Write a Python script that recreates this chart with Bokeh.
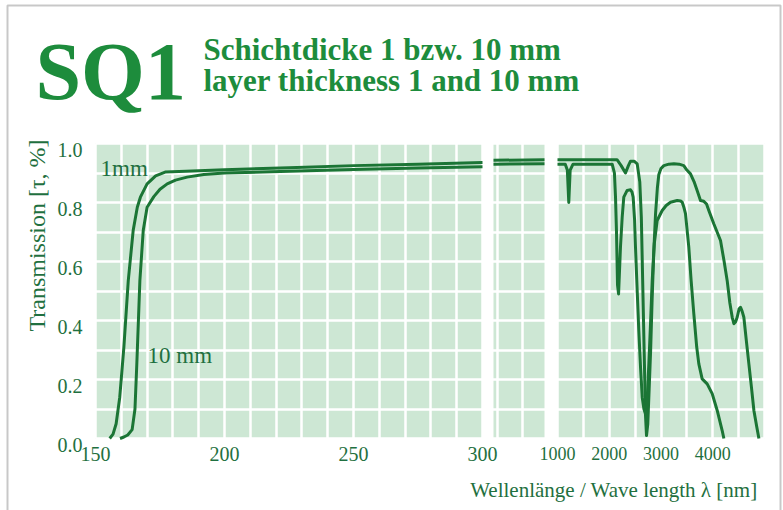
import math
from bokeh.plotting import figure
from bokeh.models import (Range1d, LinearAxis, FixedTicker, SingleIntervalTicker, Grid,
                          BoxAnnotation, Label, PrintfTickFormatter)
from bokeh.embed import file_html
from bokeh.resources import INLINE

# ---------------- data ----------------
# UV segment 150-300 nm
uv_1mm_nm = [155.5, 156.8, 158.0, 159.4, 161.0, 162.7, 164.6, 166.2, 167.4, 170.0, 173.3, 177.0,
             185.0, 200.0, 225.0, 250.0, 275.0, 300.0]
uv_1mm_T = [0.00, 0.015, 0.05, 0.14, 0.31, 0.535, 0.705, 0.784, 0.818, 0.863, 0.89, 0.903,
            0.906, 0.911, 0.918, 0.925, 0.930, 0.936]
uv_10mm_nm = [159.5, 161.0, 162.5, 164.2, 165.3, 166.0, 167.2, 168.5, 170.0, 172.6, 175.0, 177.8,
              181.0, 185.5, 192.0, 200.0, 225.0, 250.0, 275.0, 300.0]
uv_10mm_T = [0.00, 0.005, 0.012, 0.03, 0.10, 0.25, 0.535, 0.705, 0.784, 0.82, 0.845, 0.863,
             0.876, 0.886, 0.895, 0.900, 0.906, 0.912, 0.917, 0.921]
# middle (broken) segment 300-1000 nm
mid_nm = [300, 1000]
mid_1mm_T = [0.943, 0.945]
mid_10mm_T = [0.930, 0.931]
# IR segment 1000-5000 nm
ir_1mm_nm = [1000, 2150, 2230, 2314, 2370, 2411, 2480, 2540, 2590, 2620, 2650, 2680, 2700, 2720,
             2745, 2765, 2800, 2830, 2860, 2894, 2930, 2958, 3000, 3055, 3150, 3250, 3350, 3440,
             3500, 3570, 3640, 3700, 3763, 3827, 3880, 3924, 4020, 4150, 4220, 4279, 4330, 4376,
             4408, 4440, 4472, 4510, 4537, 4570, 4601, 4650, 4698, 4750, 4795, 4850, 4892]
ir_1mm_T = [0.945, 0.945, 0.925, 0.90, 0.925, 0.94, 0.94, 0.931, 0.87, 0.75, 0.5, 0.25, 0.08, 0.01,
            0.05, 0.14, 0.3, 0.48, 0.63, 0.76, 0.85, 0.895, 0.915, 0.925, 0.93, 0.931, 0.93, 0.925,
            0.91, 0.897, 0.87, 0.84, 0.807, 0.804, 0.795, 0.773, 0.728, 0.671, 0.6, 0.535, 0.46, 0.411,
            0.389, 0.395, 0.411, 0.44, 0.445, 0.43, 0.411, 0.33, 0.253, 0.17, 0.095, 0.04, 0.0]
ir_10mm_nm = [1000, 1150, 1190, 1218, 1245, 1300, 1400, 2057, 2100, 2121, 2140, 2160, 2180, 2217,
              2250, 2281, 2346, 2411, 2440, 2462, 2490, 2507, 2540, 2571, 2605, 2637, 2670, 2700,
              2730, 2765, 2800, 2830, 2870, 2926, 3023, 3100, 3184, 3313, 3380, 3410, 3440, 3473,
              3537, 3580, 3634, 3690, 3731, 3795, 3892, 3989, 4086, 4182, 4215]
ir_10mm_T = [0.93, 0.93, 0.91, 0.80, 0.91, 0.93, 0.93, 0.93, 0.90, 0.818, 0.70, 0.52, 0.49, 0.649,
             0.75, 0.818, 0.841, 0.843, 0.835, 0.818, 0.74, 0.649, 0.5, 0.366, 0.24, 0.14, 0.1, 0.084,
             0.12, 0.253, 0.4, 0.535, 0.66, 0.739, 0.773, 0.79, 0.801, 0.807, 0.805, 0.801, 0.785,
             0.762, 0.649, 0.54, 0.423, 0.31, 0.253, 0.202, 0.185, 0.152, 0.095, 0.027, 0.0]

uv_ticks = [150, 200, 250, 300]
ir_ticks = [1000, 2000, 3000, 4000]
y_ticks = [0.0, 0.2, 0.4, 0.6, 0.8, 1.0]
UV_DOM, MID_DOM, IR_DOM = (150, 300), (300, 1000), (1000, 5000)

# ---------------- layout (canvas pixels; frame covers the whole canvas) ----------------
W, H = 783, 510
FR_T, FR_B = 143, 438
SEG_UV, SEG_MID, SEG_IR = (95, 482), (493, 544), (557, 764)

def seg_range(dom, seg):
    s = (dom[1] - dom[0]) / (seg[1] - seg[0])
    return Range1d(dom[0] - seg[0] * s, dom[1] + (W - seg[1]) * s)

def px_x(px, dom=UV_DOM, seg=SEG_UV):
    s = (dom[1] - dom[0]) / (seg[1] - seg[0])
    return dom[0] + (px - seg[0]) * s

def px_y(py):
    return (FR_B - py) / (FR_B - FR_T)

LINE = "#1b7535"
TXT = "#1f7040"
TITLE = "#1d8c3c"
BG = "#cde7d4"
FONT = "Liberation Serif"

p = figure(width=W, height=H, output_backend="svg", toolbar_location=None,
           x_axis_location=None, y_axis_location=None,
           x_range=seg_range(UV_DOM, SEG_UV), y_range=Range1d(px_y(H), px_y(0)),
           min_border=0, min_border_left=0, min_border_right=0,
           min_border_top=0, min_border_bottom=0)
p.center = [r for r in p.center if not isinstance(r, Grid)]
p.outline_line_color = None
p.background_fill_color = "white"
p.border_fill_color = "white"
p.extra_x_ranges = {"mid": seg_range(MID_DOM, SEG_MID), "ir": seg_range(IR_DOM, SEG_IR)}
d = 6 / (FR_B - FR_T)
p.extra_y_ranges = {"ylab": Range1d(px_y(H) + d, px_y(0) + d)}

# page frame
p.add_layout(BoxAnnotation(left=px_x(7), right=px_x(780), top=px_y(5), bottom=px_y(530),
                           fill_color=None, line_color="#4a4a4a", line_width=2, level="underlay"))
# segment backgrounds
for dom, rn in ((UV_DOM, "default"), (MID_DOM, "mid"), (IR_DOM, "ir")):
    p.add_layout(BoxAnnotation(left=dom[0], right=dom[1], bottom=0, top=1, x_range_name=rn,
                               fill_color=BG, fill_alpha=1, line_color=None, level="underlay"))
# grids
for dom, rn, step in ((UV_DOM, "default", 10), (MID_DOM, "mid", 350), (IR_DOM, "ir", 500)):
    p.add_layout(Grid(dimension=0, x_range_name=rn, ticker=SingleIntervalTicker(interval=step),
                      bounds=dom, cross_bounds=(0, 1), grid_line_color="white", grid_line_width=2.5))
p.add_layout(Grid(dimension=1, ticker=SingleIntervalTicker(interval=0.1), bounds=(0, 1),
                  cross_bounds=(px_x(SEG_UV[0]), px_x(SEG_IR[1])),
                  grid_line_color="white", grid_line_width=2.5))

# curves
for xs, ys, rn in ((uv_1mm_nm, uv_1mm_T, "default"), (uv_10mm_nm, uv_10mm_T, "default"),
                   (mid_nm, mid_1mm_T, "mid"), (mid_nm, mid_10mm_T, "mid"),
                   (ir_1mm_nm, ir_1mm_T, "ir"), (ir_10mm_nm, ir_10mm_T, "ir")):
    p.line(xs, ys, x_range_name=rn, line_color=LINE, line_width=3, line_join="round")

# axes (drawn inside the full-canvas frame)
def style_axis(ax, size):
    ax.axis_line_color = None
    ax.major_tick_line_color = None
    ax.minor_tick_line_color = None
    ax.major_tick_out = 0
    ax.major_tick_in = 0
    ax.major_label_text_font = FONT
    ax.major_label_text_font_size = size
    ax.major_label_text_color = TXT

yax = LinearAxis(y_range_name="ylab", ticker=FixedTicker(ticks=y_ticks),
                 formatter=PrintfTickFormatter(format="%.1f"), fixed_location=UV_DOM[0],
                 major_label_standoff=13)
style_axis(yax, "20px")
p.add_layout(yax, "left")

xax = LinearAxis(ticker=FixedTicker(ticks=uv_ticks), fixed_location=0, major_label_standoff=8)
style_axis(xax, "20px")
p.add_layout(xax, "below")
xax2 = LinearAxis(x_range_name="ir", ticker=FixedTicker(ticks=ir_ticks), fixed_location=0,
                  major_label_standoff=8)
style_axis(xax2, "18px")
p.add_layout(xax2, "below")

# texts (y given as the wanted baseline in canvas px; corrected for the renderer's offset)
def lab(text, px, base, size, color=TXT, bold=False, align="left", baseline="alphabetic",
        angle=0, rn="default", dom=UV_DOM, seg=SEG_UV):
    y = px_y(base - 0.34 * size) if baseline == "alphabetic" else px_y(base)
    p.add_layout(Label(x=px_x(px, dom, seg), y=y, text=text, x_range_name=rn, text_font=FONT,
                       text_font_size=f"{size}px", text_color=color,
                       text_font_style="bold" if bold else "normal",
                       text_align=align, text_baseline=baseline, angle=angle))

lab("SQ1", 35, 99, 82, TITLE, bold=True)
lab("Schichtdicke 1 bzw. 10 mm", 203, 60, 31, TITLE, bold=True)
lab("layer thickness 1 and 10 mm", 203, 91, 31, TITLE, bold=True)
lab("Transmission [τ, %]", 36, 235, 24, TXT, align="center", baseline="middle", angle=math.pi / 2)
lab("1mm", 100, 176, 23)
lab("10 mm", 147, 363, 23)
lab("Wellenlänge / Wave length λ [nm]", 757, 497, 21, align="right", rn="ir", dom=IR_DOM, seg=SEG_IR)

open("out.html", "w").write(file_html(p, INLINE))
